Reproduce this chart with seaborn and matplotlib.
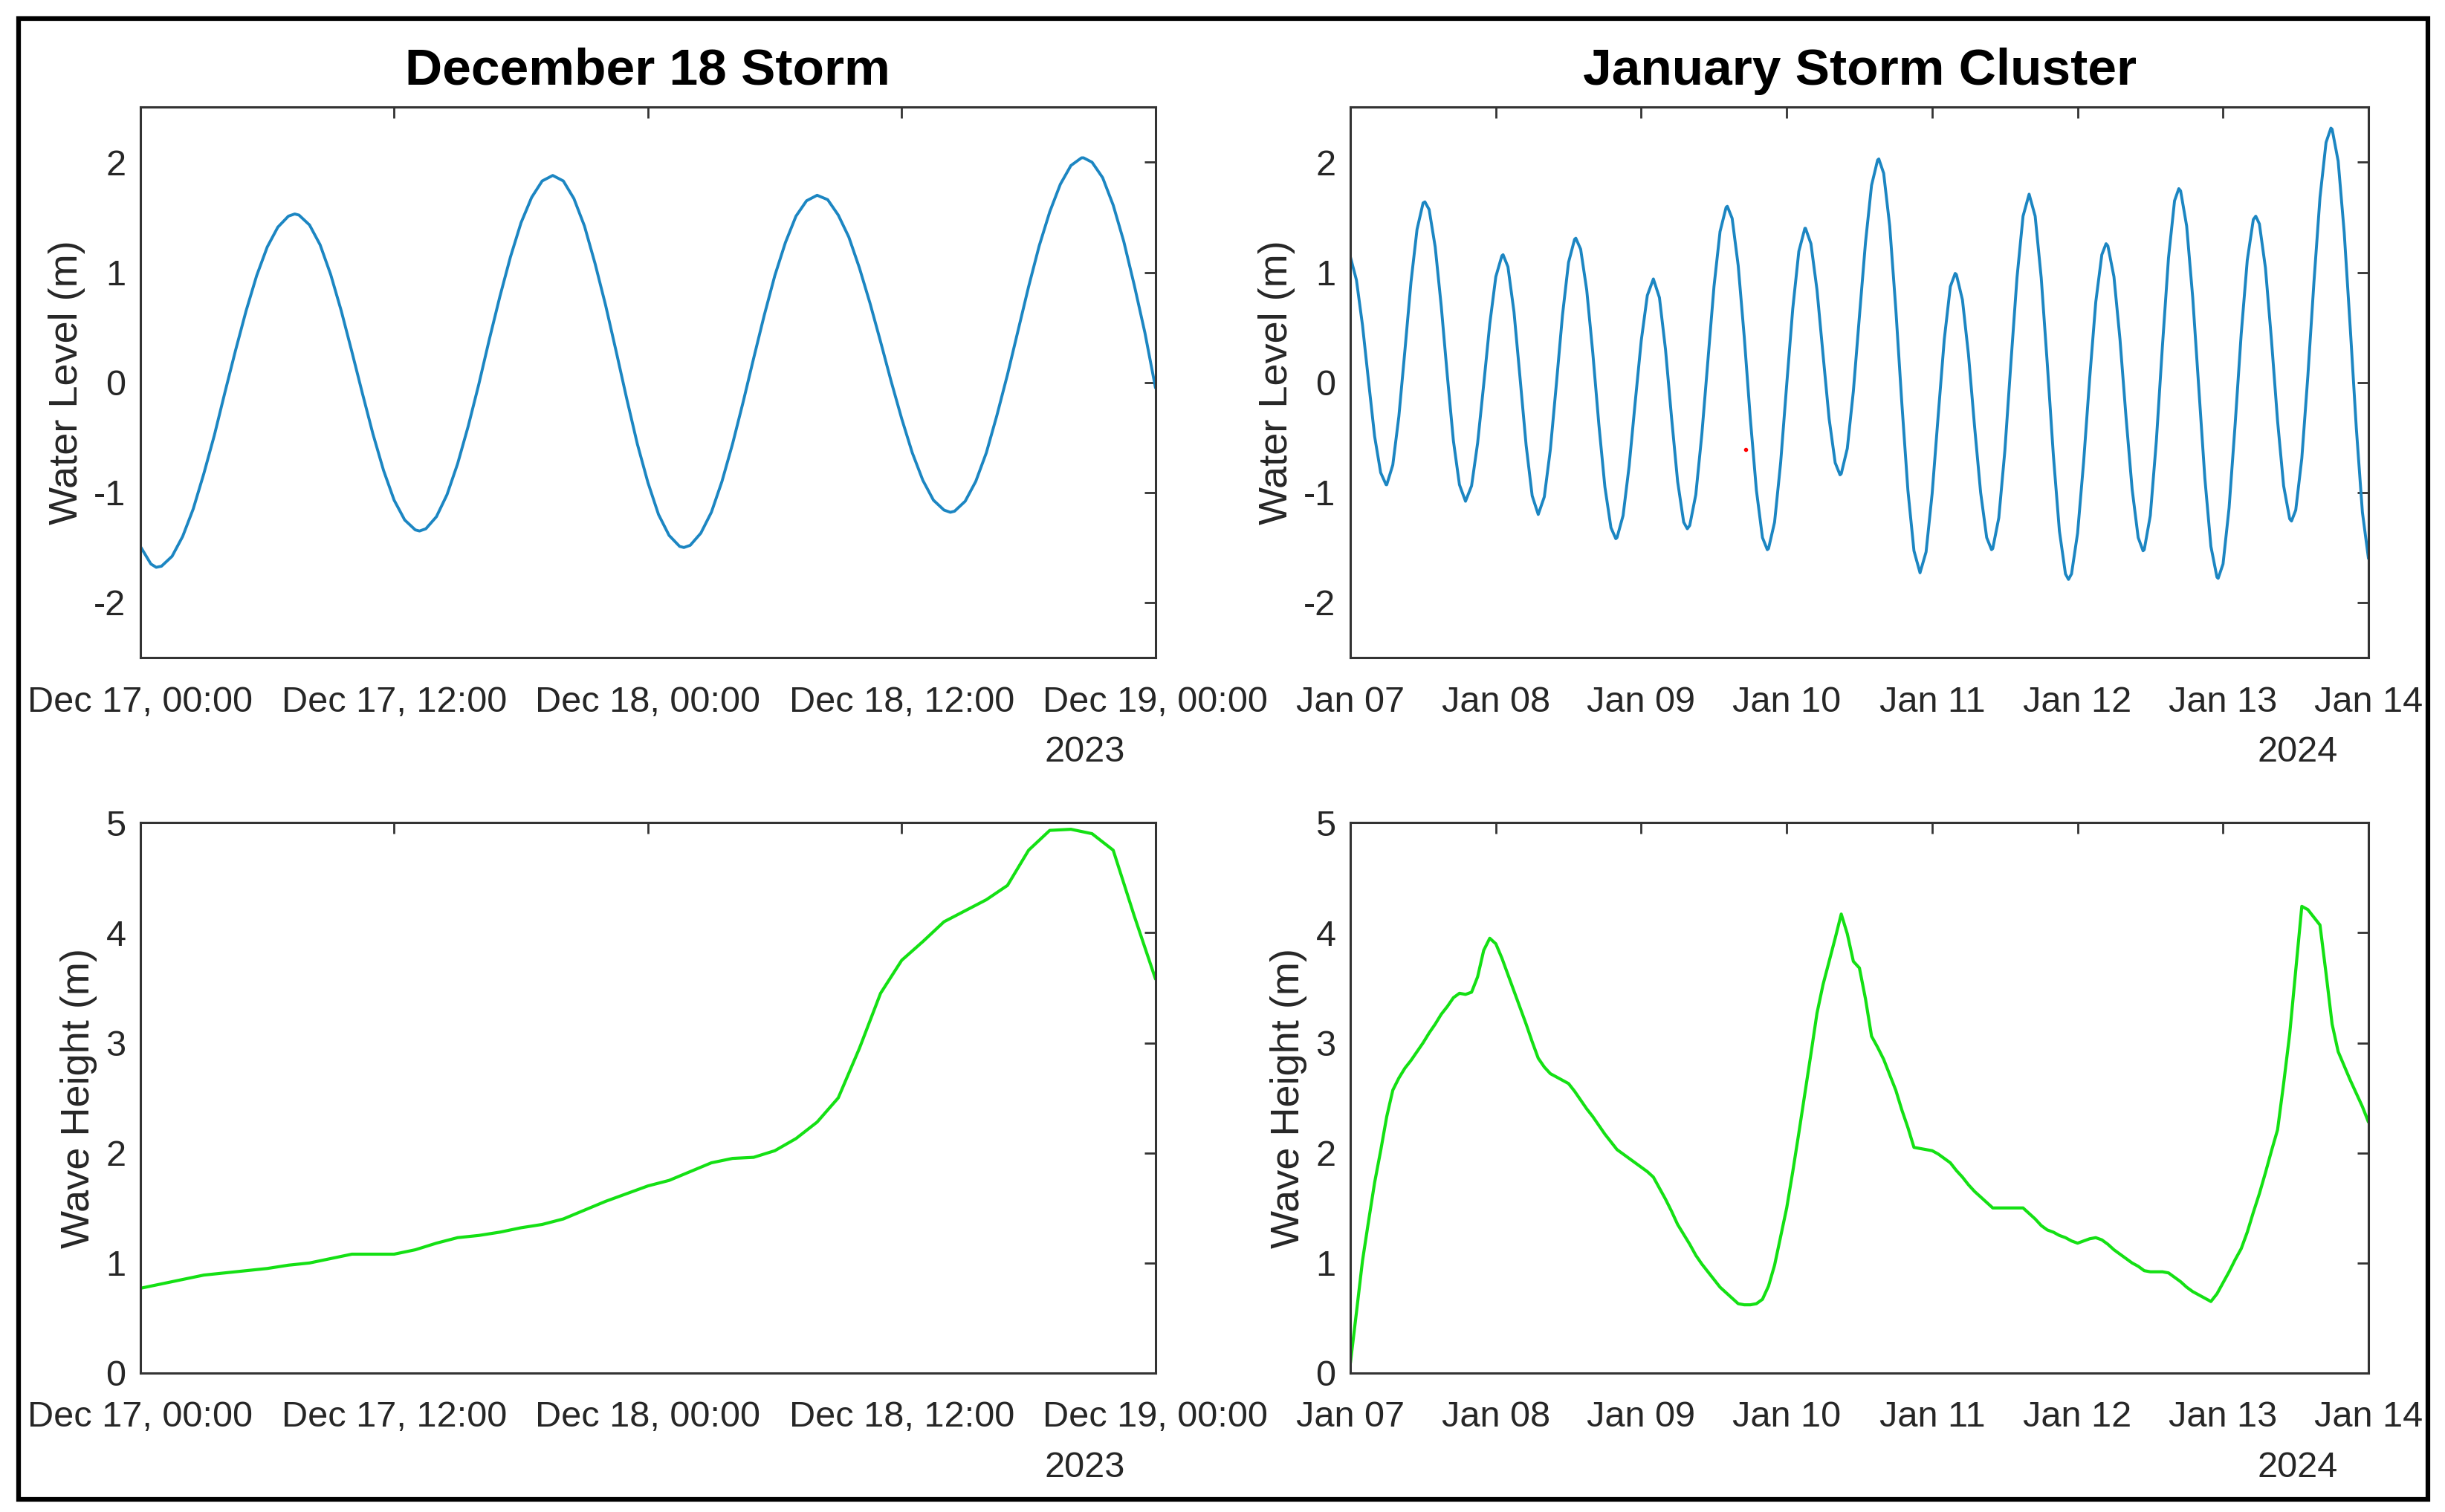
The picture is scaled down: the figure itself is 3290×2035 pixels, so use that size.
import matplotlib
matplotlib.use("Agg")
import matplotlib.pyplot as plt
import matplotlib.dates as mdates
from matplotlib.patches import Rectangle
import seaborn as sns
import pandas as pd

# ---- data ----
# December 18 storm: water level every 30 min, wave height every hour
dec_start = "2023-12-17 00:00"
dec_water = [-1.49, -1.65, -1.67, -1.58, -1.40, -1.15, -0.83, -0.48, -0.09, 0.29,
             0.65, 0.97, 1.23, 1.41, 1.51, 1.52, 1.43, 1.25, 0.98, 0.65,
             0.28, -0.10, -0.47, -0.80, -1.07, -1.25, -1.34, -1.33, -1.22, -1.02,
             -0.74, -0.40, -0.02, 0.39, 0.78, 1.14, 1.45, 1.68, 1.83, 1.88,
             1.83, 1.67, 1.42, 1.08, 0.70, 0.28, -0.15, -0.56, -0.91, -1.20,
             -1.39, -1.49, -1.48, -1.37, -1.18, -0.90, -0.56, -0.18, 0.22, 0.61,
             0.97, 1.27, 1.51, 1.65, 1.70, 1.66, 1.52, 1.32, 1.04, 0.72,
             0.37, 0.01, -0.33, -0.64, -0.89, -1.07, -1.16, -1.17, -1.08, -0.90,
             -0.64, -0.30, 0.07, 0.47, 0.87, 1.24, 1.55, 1.80, 1.97, 2.04,
             2.00, 1.86, 1.61, 1.28, 0.88, 0.45, -0.05]
# turning points of the December tide (hours after start, level)
dec_peak_hours = [0.75, 7.3, 13.2, 25.7, 38.3, 44.6]
dec_peak_levels = [-1.68, 1.53, -1.35, -1.50, -1.18, 2.04]

dec_wave = [0.77, 0.81, 0.85, 0.89, 0.91, 0.93, 0.95, 0.98, 1.00, 1.04,
            1.08, 1.08, 1.08, 1.12, 1.18, 1.23, 1.25, 1.28, 1.32, 1.35,
            1.40, 1.48, 1.56, 1.63, 1.70, 1.75, 1.83, 1.91, 1.95, 1.96,
            2.02, 2.13, 2.28, 2.50, 2.95, 3.45, 3.75, 3.92, 4.10, 4.20,
            4.30, 4.43, 4.75, 4.93, 4.94, 4.90, 4.75, 4.15, 3.58]

# January storm cluster: hourly values
jan_start = "2024-01-07 00:00"
jan_water = [1.14, 0.93, 0.52, 0.01, -0.49, -0.82, -0.93, -0.75, -0.31, 0.29,
             0.91, 1.39, 1.63, 1.57, 1.23, 0.69, 0.06, -0.53, -0.93, -1.08,
             -0.94, -0.55, -0.02, 0.53, 0.96, 1.15, 1.05, 0.64, 0.04, -0.57,
             -1.03, -1.20, -1.04, -0.61, -0.01, 0.61, 1.09, 1.30, 1.21, 0.84,
             0.27, -0.38, -0.95, -1.32, -1.41, -1.21, -0.76, -0.18, 0.38, 0.79,
             0.94, 0.77, 0.30, -0.32, -0.90, -1.27, -1.30, -1.02, -0.47, 0.20,
             0.87, 1.37, 1.59, 1.49, 1.06, 0.41, -0.33, -0.98, -1.41, -1.51,
             -1.27, -0.73, -0.02, 0.67, 1.19, 1.40, 1.26, 0.84, 0.25, -0.33,
             -0.73, -0.83, -0.60, -0.08, 0.60, 1.27, 1.79, 2.02, 1.90, 1.42,
             0.67, -0.19, -0.98, -1.53, -1.73, -1.54, -1.01, -0.30, 0.39, 0.87,
             0.98, 0.75, 0.25, -0.40, -1.00, -1.41, -1.51, -1.23, -0.62, 0.18,
             0.95, 1.51, 1.71, 1.51, 0.95, 0.17, -0.66, -1.35, -1.74, -1.74,
             -1.37, -0.72, 0.04, 0.73, 1.16, 1.24, 0.96, 0.39, -0.32, -0.97,
             -1.41, -1.52, -1.21, -0.53, 0.33, 1.13, 1.65, 1.74, 1.42, 0.77,
             -0.05, -0.87, -1.49, -1.77, -1.65, -1.14, -0.38, 0.44, 1.11, 1.48,
             1.44, 1.04, 0.38, -0.35, -0.94, -1.24, -1.16, -0.69, 0.06, 0.91,
             1.68, 2.18, 2.30, 2.01, 1.36, 0.49, -0.42, -1.18, -1.60]
# turning points of the January tide (hours after start, level)
jan_peak_hours = [5.9, 12.3, 25.2, 37.2, 43.8, 55.6, 62.2, 68.8, 75.1, 80.8,
                  87.2, 99.8, 105.8, 118.5, 124.7, 130.8, 136.7, 143.2, 149.4,
                  155.3, 161.8]
jan_peak_levels = [-0.93, 1.64, 1.16, 1.31, -1.42, -1.33, 1.60, -1.52, 1.40, -0.84,
                   2.03, 0.99, -1.52, -1.79, 1.26, -1.53, 1.76, -1.78, 1.51,
                   -1.26, 2.31]

jan_wave = [0.09, 0.55, 1.02, 1.38, 1.73, 2.02, 2.33, 2.57, 2.68, 2.77,
            2.84, 2.92, 3.00, 3.09, 3.17, 3.26, 3.33, 3.41, 3.45, 3.44,
            3.46, 3.60, 3.84, 3.95, 3.90, 3.77, 3.62, 3.47, 3.32, 3.17,
            3.01, 2.86, 2.78, 2.72, 2.69, 2.66, 2.63, 2.56, 2.48, 2.40,
            2.33, 2.25, 2.17, 2.10, 2.03, 1.99, 1.95, 1.91, 1.87, 1.83,
            1.78, 1.68, 1.58, 1.47, 1.35, 1.26, 1.17, 1.07, 0.99, 0.92,
            0.85, 0.78, 0.73, 0.68, 0.63, 0.62, 0.62, 0.63, 0.67, 0.79,
            0.98, 1.24, 1.50, 1.83, 2.18, 2.54, 2.90, 3.27, 3.53, 3.74,
            3.95, 4.17, 3.99, 3.74, 3.68, 3.40, 3.06, 2.96, 2.85, 2.71,
            2.57, 2.39, 2.23, 2.05, 2.04, 2.03, 2.02, 1.99, 1.95, 1.91,
            1.84, 1.78, 1.71, 1.65, 1.60, 1.55, 1.50, 1.50, 1.50, 1.50,
            1.50, 1.50, 1.45, 1.40, 1.34, 1.30, 1.28, 1.25, 1.23, 1.20,
            1.18, 1.20, 1.22, 1.23, 1.21, 1.17, 1.12, 1.08, 1.04, 1.00,
            0.97, 0.93, 0.92, 0.92, 0.92, 0.91, 0.87, 0.83, 0.78, 0.74,
            0.71, 0.68, 0.65, 0.72, 0.82, 0.92, 1.03, 1.13, 1.28, 1.46,
            1.63, 1.82, 2.02, 2.21, 2.63, 3.08, 3.66, 4.24, 4.21, 4.14,
            4.07, 3.63, 3.17, 2.92, 2.79, 2.66, 2.54, 2.42, 2.28]

# stray red marker in the January water level panel
red_time = "2024-01-09 17:15"
red_level = -0.61

titles = ["December 18 Storm", "January Storm Cluster"]
years = ["2023", "2024"]
water_label = "Water Level (m)"
wave_label = "Wave Height (m)"

BLUE = "#1c86c2"
GREEN = "#14e014"
AXCOL = "#333333"
TXTCOL = "#262626"

sns.set_theme(style="white")
plt.rcParams["font.family"] = ["Liberation Sans", "DejaVu Sans"]
plt.rcParams["axes.unicode_minus"] = False


def tide_frame(start, freq, levels, peak_hours, peak_levels):
    """Regular samples plus the read-off turning points, sorted by time."""
    t0 = pd.Timestamp(start)
    regular = pd.DataFrame({"time": pd.date_range(start, periods=len(levels), freq=freq),
                            "level": levels})
    peaks = pd.DataFrame({"time": t0 + pd.to_timedelta(peak_hours, unit="h"),
                          "level": peak_levels})
    return pd.concat([regular, peaks]).sort_values("time").reset_index(drop=True)


def style_axes(ax, ylim, yticks):
    ax.set_ylim(*ylim)
    ax.set_yticks(yticks)
    for sp in ax.spines.values():
        sp.set_visible(True)
        sp.set_color(AXCOL)
        sp.set_linewidth(2.2)
    ax.tick_params(axis="both", direction="in", top=True, right=True,
                   length=11, width=2, color=AXCOL, labelcolor=TXTCOL,
                   labelsize=35)
    ax.tick_params(axis="x", pad=27)
    ax.tick_params(axis="y", pad=14)
    ax.set_xlabel("")


fig = plt.figure(figsize=(32.9, 20.35), dpi=100)

left_x, right_x = 0.0574, 0.5523
w_left, w_right = 0.4152, 0.4164
top_y, bot_y, h = 0.5651, 0.0919, 0.3640

ax_dw = fig.add_axes([left_x, top_y, w_left, h])
ax_jw = fig.add_axes([right_x, top_y, w_right, h])
ax_dh = fig.add_axes([left_x, bot_y, w_left, h])
ax_jh = fig.add_axes([right_x, bot_y, w_right, h])

dec_tide = tide_frame(dec_start, "30min", dec_water, dec_peak_hours, dec_peak_levels)
jan_tide = tide_frame(jan_start, "h", jan_water, jan_peak_hours, jan_peak_levels)
dec_t_wave = pd.date_range(dec_start, periods=len(dec_wave), freq="h")
jan_t = pd.date_range(jan_start, periods=len(jan_wave), freq="h")

sns.lineplot(data=dec_tide, x="time", y="level", ax=ax_dw, color=BLUE,
             linewidth=2.8, sort=False)
sns.lineplot(data=jan_tide, x="time", y="level", ax=ax_jw, color=BLUE,
             linewidth=2.8, sort=False)
ax_jw.plot([pd.Timestamp(red_time)], [red_level], marker=".", color="red",
           markersize=6, linestyle="none")
sns.lineplot(x=dec_t_wave, y=dec_wave, ax=ax_dh, color=GREEN, linewidth=3.0)
sns.lineplot(x=jan_t, y=jan_wave, ax=ax_jh, color=GREEN, linewidth=3.0)

for ax in (ax_dw, ax_dh):
    style_axes(ax, (-2.5, 2.5) if ax is ax_dw else (0, 5),
               [-2, -1, 0, 1, 2] if ax is ax_dw else [0, 1, 2, 3, 4, 5])
    ax.set_xlim(dec_t_wave[0], dec_t_wave[-1])
    ax.xaxis.set_major_locator(mdates.HourLocator(byhour=[0, 12]))
    ax.xaxis.set_major_formatter(mdates.DateFormatter("%b %d, %H:%M"))
    ax.text(0.93, -0.172, years[0], transform=ax.transAxes, ha="center",
            va="center", fontsize=35, color=TXTCOL)

for ax in (ax_jw, ax_jh):
    style_axes(ax, (-2.5, 2.5) if ax is ax_jw else (0, 5),
               [-2, -1, 0, 1, 2] if ax is ax_jw else [0, 1, 2, 3, 4, 5])
    ax.set_xlim(jan_t[0], jan_t[-1])
    ax.xaxis.set_major_locator(mdates.DayLocator())
    ax.xaxis.set_major_formatter(mdates.DateFormatter("%b %d"))
    ax.text(0.93, -0.172, years[1], transform=ax.transAxes, ha="center",
            va="center", fontsize=35, color=TXTCOL)

for ax in (ax_dw, ax_jw):
    ax.set_ylabel(water_label, fontsize=39, color=TXTCOL, labelpad=8)
for ax in (ax_dh, ax_jh):
    ax.set_ylabel(wave_label, fontsize=39, color=TXTCOL, labelpad=8)

ax_dw.set_title(titles[0], fontsize=50, fontweight="bold", color="black", pad=22)
ax_jw.set_title(titles[1], fontsize=50, fontweight="bold", color="black", pad=22)

# black frame around the whole figure
fig.patches.append(Rectangle((0.0076, 0.0084), 0.9854, 0.9794, transform=fig.transFigure,
                             fill=False, edgecolor="black", linewidth=4.5))

fig.savefig("out.png", dpi=100)
